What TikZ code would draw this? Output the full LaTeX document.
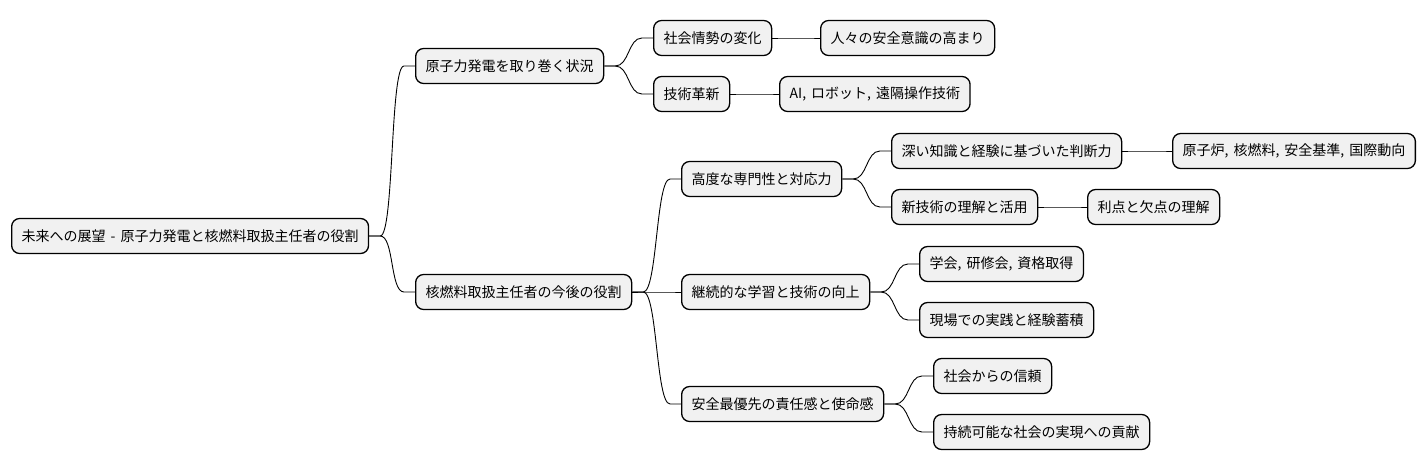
\documentclass[tikz,border=0pt]{standalone}
\usepackage{fontspec}
\setmainfont[WordSpace=1.6]{Noto Sans CJK JP}
\usepackage{tikz}
\usepackage{xcolor}
\definecolor{boxgray}{HTML}{F1F1F1}

\begin{document}
\begin{tikzpicture}[x=1pt,y=-1pt,
  topic/.style={draw=black, line width=1.3pt, fill=boxgray, rounded corners=8pt, anchor=west, minimum height=35pt, inner xsep=10pt, font=\fontsize{14pt}{17pt}\selectfont},
  link/.style={line width=0.9pt, to path={-- ++(11,0) .. controls +(14,0) and ([xshift=-25pt]\tikztotarget) .. ([xshift=-11pt]\tikztotarget) -- (\tikztotarget)}}]
\useasboundingbox (0,0) rectangle (1425,471);

% Root
\node[topic] (root) at (11,236) {未来への展望 - 原子力発電と核燃料取扱主任者の役割};

% First branch
\node[topic] (situ) at (415,66) {原子力発電を取り巻く状況};
\node[topic] (soc) at (653,38) {社会情勢の変化};
\node[topic] (soca) at (820,38) {人々の安全意識の高まり};
\node[topic] (tech) at (653,94) {技術革新};
\node[topic] (techa) at (779,94) {AI, ロボット, 遠隔操作技術};

% Second branch
\node[topic] (role) at (415,292) {核燃料取扱主任者の今後の役割};
\node[topic] (expert) at (681,179) {高度な専門性と対応力};
\node[topic] (judge) at (891,151) {深い知識と経験に基づいた判断力};
\node[topic] (judgea) at (1172,151) {原子炉, 核燃料, 安全基準, 国際動向};
\node[topic] (newtech) at (891,207) {新技術の理解と活用};
\node[topic] (newtecha) at (1087,207) {利点と欠点の理解};
\node[topic] (learn) at (681,292) {継続的な学習と技術の向上};
\node[topic] (learna) at (919,264) {学会, 研修会, 資格取得};
\node[topic] (learnb) at (919,320) {現場での実践と経験蓄積};
\node[topic] (safe) at (681,404) {安全最優先の責任感と使命感};
\node[topic] (safea) at (933,376) {社会からの信頼};
\node[topic] (safeb) at (933,432) {持続可能な社会の実現への貢献};

% Connectors
\draw[link] (root.east) to (situ.west);
\draw[link] (root.east) to (role.west);
\draw[link] (situ.east) to (soc.west);
\draw[link] (situ.east) to (tech.west);
\draw[link] (soc.east) to (soca.west);
\draw[link] (tech.east) to (techa.west);
\draw[link] (role.east) to (expert.west);
\draw[link] (role.east) to (learn.west);
\draw[link] (role.east) to (safe.west);
\draw[link] (expert.east) to (judge.west);
\draw[link] (expert.east) to (newtech.west);
\draw[link] (judge.east) to (judgea.west);
\draw[link] (newtech.east) to (newtecha.west);
\draw[link] (learn.east) to (learna.west);
\draw[link] (learn.east) to (learnb.west);
\draw[link] (safe.east) to (safea.west);
\draw[link] (safe.east) to (safeb.west);
\end{tikzpicture}
\end{document}
